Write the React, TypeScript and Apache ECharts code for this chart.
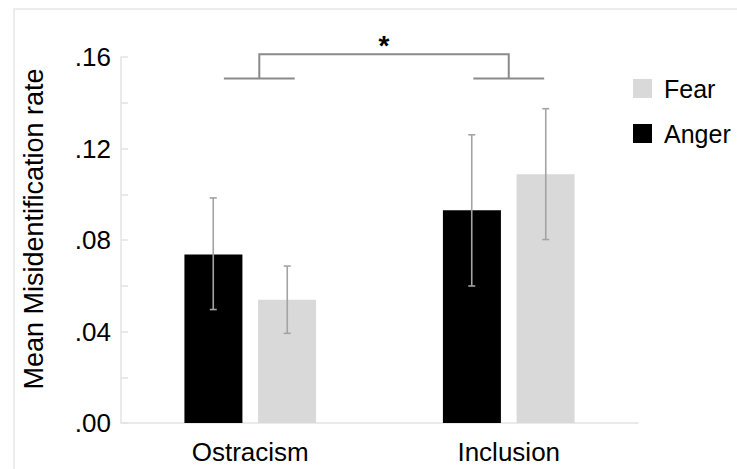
import React, { useEffect, useRef } from "react";
import * as echarts from "echarts";

const categories = ["Ostracism", "Inclusion"];
const seriesNames = ["Anger", "Fear"];
const angerMean = [0.0737, 0.093];
const angerLow = [0.0496, 0.0599];
const angerHigh = [0.0984, 0.126];
const fearMean = [0.0539, 0.1087];
const fearLow = [0.0392, 0.0802];
const fearHigh = [0.0686, 0.1374];
const yTicks = [0, 0.04, 0.08, 0.12, 0.16];
// significance bracket (category units / data units)
const bracketCats = [0.035, 1.0];
const bracketArm = 0.137;
const bracketLow = 0.1506;
const bracketHigh = 0.1612;
const sigY = 0.1652;
const sigLabel = "*";

const FONT = "Liberation Sans, Arial, sans-serif";
const BAR_W = 58;
const BAR_OFF = 37;

export default function App() {
  const ref = useRef<HTMLDivElement>(null);
  useEffect(() => {
    if (!ref.current) return;
    const chart = echarts.init(ref.current, undefined, { renderer: "svg" });
    const errData = (low: number[], high: number[], sIdx: number) =>
      categories.map((_, i) => [i, low[i], high[i], sIdx]);
    const errRender = (params: any, api: any) => {
      const ci = api.value(0);
      const s = api.value(3);
      const off = s === 0 ? -BAR_OFF : BAR_OFF;
      const lo = api.coord([ci, api.value(1)]);
      const hi = api.coord([ci, api.value(2)]);
      const x = lo[0] + off;
      const st = { stroke: "#a3a3a3", lineWidth: 1.6 };
      return {
        type: "group",
        children: [
          { type: "line", shape: { x1: x, y1: lo[1], x2: x, y2: hi[1] }, style: st },
          { type: "line", shape: { x1: x - 3.5, y1: lo[1], x2: x + 3.5, y2: lo[1] }, style: st },
          { type: "line", shape: { x1: x - 3.5, y1: hi[1], x2: x + 3.5, y2: hi[1] }, style: st },
        ],
      };
    };
    const bracketRender = (params: any, api: any) => {
      const band = api.size([1, 0])[0];
      const c0 = api.coord([0, bracketLow]);
      const top = api.coord([0, bracketHigh])[1];
      const sy = api.coord([0, sigY])[1];
      const base = c0[1];
      const xL = c0[0] + bracketCats[0] * band;
      const xR = c0[0] + bracketCats[1] * band;
      const arm = bracketArm * band;
      const st = { stroke: "#8a8a8a", lineWidth: 2, fill: "none" };
      return {
        type: "group",
        children: [
          { type: "line", shape: { x1: xL - arm, y1: base, x2: xL + arm, y2: base }, style: st },
          { type: "line", shape: { x1: xR - arm, y1: base, x2: xR + arm, y2: base }, style: st },
          {
            type: "polyline",
            shape: { points: [[xL, base], [xL, top], [xR, top], [xR, base]] },
            style: st,
          },
          {
            type: "text",
            x: (xL + xR) / 2,
            y: sy,
            style: {
              text: sigLabel,
              fill: "#000",
              font: `bold 28px ${FONT}`,
              align: "center",
              verticalAlign: "middle",
            },
          },
        ],
      };
    };
    chart.setOption({
      animation: false,
      textStyle: { fontFamily: FONT },
      graphic: [
        {
          type: "rect",
          shape: { x: 14, y: 9, width: 900, height: 700 },
          style: { fill: "none", stroke: "#e6e6e6", lineWidth: 1.5 },
          silent: true,
        },
      ],
      legend: {
        orient: "vertical",
        left: 633,
        top: 76,
        itemWidth: 19,
        itemHeight: 19,
        itemGap: 20,
        padding: 0,
        icon: "rect",
        data: ["Fear", "Anger"],
        textStyle: { fontSize: 25, color: "#000", padding: [0, 0, 0, 7], fontFamily: FONT },
      },
      grid: { left: 121, right: 99, top: 57, bottom: 46 },
      xAxis: {
        type: "category",
        data: categories,
        axisLine: { lineStyle: { color: "#e3e3e3", width: 1.5 } },
        axisTick: { show: false },
        axisLabel: { fontSize: 26, color: "#000", margin: 16, fontFamily: FONT },
      },
      yAxis: {
        type: "value",
        min: 0,
        max: 0.16,
        interval: 0.04,
        name: "Mean Misidentification rate",
        nameLocation: "middle",
        nameGap: 74,
        nameRotate: 90,
        nameTextStyle: { fontSize: 27, color: "#000", fontFamily: FONT, padding: [0, 0, 0, 22] },
        axisLine: { show: true, lineStyle: { color: "#e3e3e3", width: 1.5 } },
        axisTick: { show: true, inside: true, length: 7, lineStyle: { color: "#e3e3e3", width: 1.5 } },
        minorTick: { show: true, splitNumber: 2, length: 7, lineStyle: { color: "#e3e3e3", width: 1.5 } },
        splitLine: { show: false },
        axisLabel: {
          fontSize: 26,
          color: "#000",
          margin: 10,
          fontFamily: FONT,
          formatter: (v: number) => {
            const t = yTicks.find((k) => Math.abs(k - v) < 1e-9);
            return (t ?? v).toFixed(2).replace(/^0/, "");
          },
        },
      },
      series: [
        {
          name: seriesNames[0],
          type: "bar",
          data: angerMean,
          barWidth: BAR_W,
          barGap: "27%",
          itemStyle: { color: "#000000" },
        },
        {
          name: seriesNames[1],
          type: "bar",
          data: fearMean,
          barWidth: BAR_W,
          itemStyle: { color: "#d9d9d9" },
        },
        {
          type: "custom",
          renderItem: errRender,
          data: errData(angerLow, angerHigh, 0),
          encode: { x: 0, y: [1, 2] },
          z: 5,
          silent: true,
        },
        {
          type: "custom",
          renderItem: errRender,
          data: errData(fearLow, fearHigh, 1),
          encode: { x: 0, y: [1, 2] },
          z: 5,
          silent: true,
        },
        {
          type: "custom",
          renderItem: bracketRender,
          data: [[0, bracketLow, bracketHigh]],
          encode: { x: 0, y: [1, 2] },
          clip: false,
          z: 5,
          silent: true,
        },
      ],
    });
    return () => chart.dispose();
  }, []);
  return <div ref={ref} style={{ width: 737, height: 469, position: "absolute", left: 0, top: 0 }} />;
}
